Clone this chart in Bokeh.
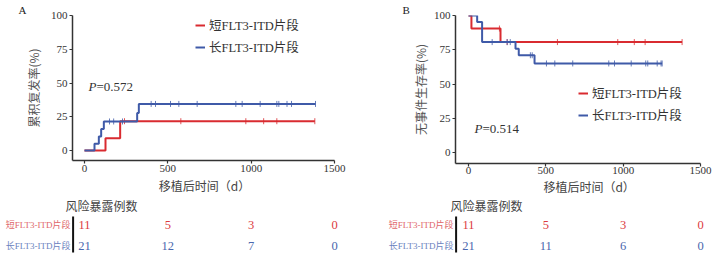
import numpy as np
from bokeh.plotting import figure
from bokeh.layouts import row, column
from bokeh.models import Range1d, FixedTicker, Legend, LegendItem, Label, ColumnDataSource
from bokeh.core.properties import value
from bokeh.embed import file_html
from bokeh.resources import INLINE

# ---------------- data ----------------
group_names = ["短FLT3-ITD片段", "长FLT3-ITD片段"]

# Panel A: cumulative relapse rate (%)
a_short_t = [0, 126, 214, 1382]
a_short_y = [0, 9.1, 21.7, 21.7]
a_short_cens = [240, 578, 968, 1075, 1154, 1382]
a_long_t = [0, 60, 86, 100, 116, 316, 326, 1386]
a_long_y = [0, 5.0, 10.4, 16.0, 21.5, 27.8, 34.5, 34.5]
a_long_cens = [150, 175, 228, 400, 426, 516, 566, 676, 908, 946, 1054, 1154, 1166, 1215, 1242, 1386]

# Panel B: event-free survival (%)
b_short_t = [0, 19, 207, 1381]
b_short_y = [100, 90.5, 80.6, 80.6]
b_short_cens = [200, 250, 575, 965, 1072, 1142, 1381]
b_long_t = [0, 56, 88, 304, 325, 427, 1252]
b_long_y = [100, 95.2, 80.6, 75.8, 71.0, 65.0, 65.0]
b_long_cens = [153, 250, 270, 400, 412, 504, 558, 674, 907, 944, 1052, 1146, 1159, 1220, 1245, 1252]

time_ticks = [0, 500, 1000, 1500]
y_ticks = [0, 25, 50, 75, 100]
a_risk_short = [11, 5, 3, 0]
a_risk_long = [21, 12, 7, 0]
b_risk_short = [11, 5, 3, 0]
b_risk_long = [21, 11, 6, 0]

a_pvalue = "=0.572"
b_pvalue = "=0.514"
a_ylabel = "累积复发率(%)"
b_ylabel = "无事件生存率(%)"
x_label = "移植后时间（d）"
risk_title = "风险暴露例数"

# ---------------- style ----------------
RED = "#d92b30"
BLUE = "#3f5aa8"
RED_TXT = "#dc3a3f"
BLUE_TXT = "#4a67ae"
RED_LBL = "#e0666a"
BLUE_LBL = "#6a82be"
AX = "#333333"
SERIF = "'Liberation Serif', 'Noto Sans CJK SC'"
CJK = "Noto Sans CJK SC"
TOTAL_H = 256


def step_vals(t, y, c):
    idx = np.searchsorted(np.asarray(t), np.asarray(c), side="right") - 1
    return list(np.asarray(y)[idx])


def build(cfg):
    fl, fw, ft, fh = cfg["fl"], cfg["fw"], cfg["ft"], cfg["fh"]
    fig_w, main_h = cfg["fig_w"], cfg["main_h"]
    xmin, ymin = cfg["xmin"], cfg["ymin"]

    p = figure(output_backend="svg", toolbar_location=None, frame_align=False,
               frame_width=fw, frame_height=fh,
               min_border_left=fl, min_border_right=fig_w - fl - fw,
               min_border_top=ft, min_border_bottom=main_h - ft - fh,
               x_range=Range1d(xmin, 1500), y_range=Range1d(ymin, 100))
    p.outline_line_color = None
    p.grid.visible = False
    p.background_fill_color = "white"
    p.border_fill_color = "white"

    p.title.text = cfg["tag"]
    p.title.align = "left"
    p.title.offset = cfg["tag_off"]
    p.title.standoff = 0
    p.title.text_font = SERIF
    p.title.text_font_size = "11px"
    p.title.text_font_style = "normal"
    p.title.text_color = "#222222"

    for ax in (p.xaxis[0], p.yaxis[0]):
        ax.axis_line_width = 1.5
        ax.axis_line_color = AX
        ax.major_tick_line_color = AX
        ax.major_tick_line_width = 1.2
        ax.major_tick_out = 3
        ax.major_tick_in = 0
        ax.minor_tick_line_color = None
        ax.major_label_text_font = SERIF
        ax.major_label_text_font_size = "11px"
        ax.major_label_text_color = AX
    p.xaxis[0].ticker = FixedTicker(ticks=time_ticks)
    p.yaxis[0].ticker = FixedTicker(ticks=y_ticks)
    p.xaxis[0].major_label_standoff = cfg["x_standoff"]
    p.yaxis[0].major_label_standoff = 2
    p.yaxis[0].axis_label = cfg["ylabel"]
    p.yaxis[0].axis_label_text_font = CJK
    p.yaxis[0].axis_label_text_font_size = "12px"
    p.yaxis[0].axis_label_text_font_style = "normal"
    p.yaxis[0].axis_label_text_color = "#555555"
    p.yaxis[0].axis_label_standoff = cfg["ylab_standoff"]

    items = []
    for (t, y, c, col) in cfg["series"]:
        lr = p.step(t, y, mode="after", line_color=col, line_width=2)
        cr = p.scatter(c, step_vals(t, y, c), marker="dash", angle=np.pi / 2,
                       size=6, line_color=col, line_width=1, line_alpha=0.8)
        items.append((lr, cr))

    legend = Legend(items=[LegendItem(label=group_names[i], renderers=list(items[i]))
                           for i in range(2)],
                    location=cfg["legend_loc"], orientation="vertical",
                    glyph_width=10, glyph_height=14, label_height=14,
                    label_standoff=4, spacing=3, padding=0, margin=0,
                    label_text_font=SERIF, label_text_font_size="12.5px",
                    label_text_color="#333333",
                    background_fill_alpha=0, border_line_color=None)
    p.add_layout(legend, "center")

    px, py = cfg["p_pos"]
    p.add_layout(Label(x=px, y=py, x_units="screen", y_units="screen", text="P",
                       text_font=SERIF, text_font_size="13px", text_font_style="italic",
                       text_color="#333333", text_baseline="middle"))
    p.add_layout(Label(x=px + 8, y=py, x_units="screen", y_units="screen", text=cfg["pval"],
                       text_font=SERIF, text_font_size="13px",
                       text_color="#333333", text_baseline="middle"))

    # ---------- risk table ----------
    scale = fw / (1500 - xmin)
    tx0 = xmin - fl / scale
    tx1 = tx0 + fig_w / scale
    t = figure(output_backend="svg", toolbar_location=None, frame_align=False,
               frame_width=fig_w, frame_height=TOTAL_H - main_h,
               min_border=0, min_border_left=0, min_border_right=0,
               min_border_top=0, min_border_bottom=0,
               x_axis_location=None, y_axis_location=None,
               x_range=Range1d(tx0, tx1), y_range=Range1d(TOTAL_H, main_h))
    t.outline_line_color = None
    t.grid.visible = False
    t.background_fill_color = "white"
    t.border_fill_color = "white"

    t.text(x=[cfg["xlab_x"]], y=[cfg["xlab_y"]], text=[x_label], text_font=value(CJK),
           text_font_size="12px", text_color="#444444",
           text_align="center", text_baseline="middle")
    t.text(x=[cfg["title_x"]], y=[205], text=[risk_title], text_font=value(CJK),
           text_font_size="12px", text_color="#444444",
           text_align="left", text_baseline="middle")

    rows_y = [224, 245]
    risks = [cfg["risk_short"], cfg["risk_long"]]
    num_cols = [RED_TXT, BLUE_TXT]
    lbl_cols = [RED_LBL, BLUE_LBL]
    for i in range(2):
        src = ColumnDataSource(dict(x=time_ticks, y=[rows_y[i]] * len(time_ticks),
                                    txt=[str(v) for v in risks[i]]))
        t.text(x="x", y="y", text="txt", source=src, text_font=value(SERIF),
               text_font_size="12.5px", text_color=num_cols[i],
               text_align="center", text_baseline="middle")
        t.text(x=[xmin], y=[rows_y[i]], text=[group_names[i]], x_offset=-2,
               text_font=value(SERIF), text_font_size="9px", text_color=lbl_cols[i],
               text_align="right", text_baseline="middle")
    t.segment(x0=[xmin + 0.6 / scale], y0=[216], x1=[xmin + 0.6 / scale], y1=[252],
              line_color="#111111", line_width=2)

    return column(p, t, spacing=0)


cfgA = dict(fl=72, fw=262, ft=15, fh=145, fig_w=357, main_h=178, xmin=-72, ymin=-7.4,
            x_standoff=1, ylabel=a_ylabel, ylab_standoff=6,
            series=[(a_short_t, a_short_y, a_short_cens, RED),
                    (a_long_t, a_long_y, a_long_cens, BLUE)],
            legend_loc=(123, 104), p_pos=(16, 74), pval=a_pvalue,
            tag="A", tag_off=-54,
            risk_short=a_risk_short, risk_long=a_risk_long,
            xlab_x=720, xlab_y=185, title_x=-114)

cfgB = dict(fl=98, fw=245, ft=15, fh=148, fig_w=358, main_h=179, xmin=-84, ymin=-8.0,
            x_standoff=0, ylabel=b_ylabel, ylab_standoff=2,
            series=[(b_short_t, b_short_y, b_short_cens, RED),
                    (b_long_t, b_long_y, b_long_cens, BLUE)],
            legend_loc=(123, 39), p_pos=(19, 35), pval=b_pvalue,
            tag="B", tag_off=-53,
            risk_short=b_risk_short, risk_long=b_risk_long,
            xlab_x=780, xlab_y=186, title_x=-116)

layout = row(build(cfgA), build(cfgB), spacing=0)

open("out.html", "w").write(file_html(layout, INLINE))
